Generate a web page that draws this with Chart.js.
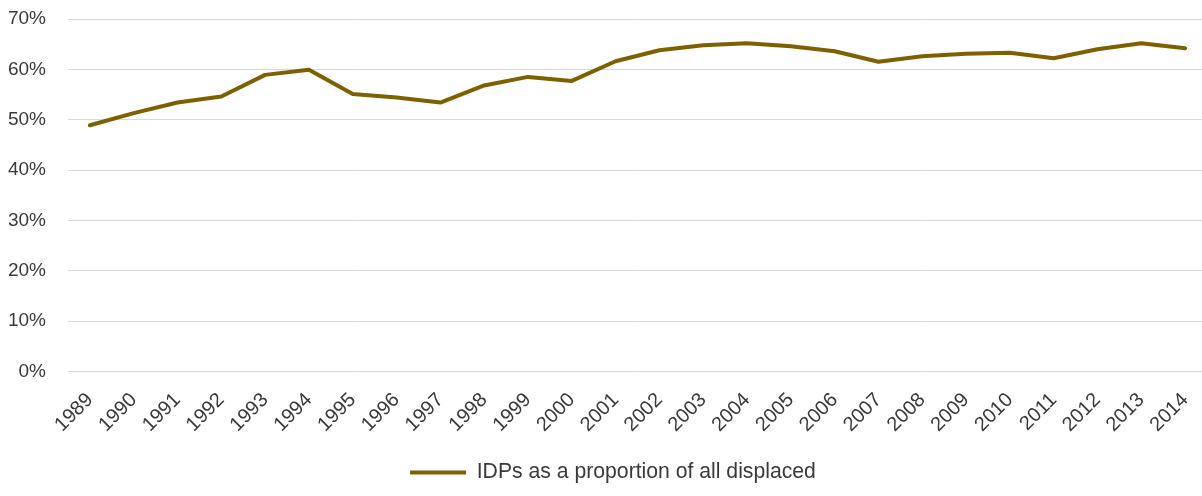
<!DOCTYPE html>
<html>
<head>
<meta charset="utf-8">
<script src="https://cdn.jsdelivr.net/npm/chart.js@4/dist/chart.umd.min.js"></script>
<style>
  html, body { margin: 0; padding: 0; background: #ffffff; overflow: hidden; }
  /* the plot runs slightly past the right edge of the window */
  #wrap { width: 1208px; height: 496px; position: relative; }
</style>
</head>
<body>
<div id="wrap"><canvas id="chart"></canvas></div>
<script>
// Years shown on the horizontal axis
const years = [
  '1989','1990','1991','1992','1993','1994','1995','1996','1997',
  '1998','1999','2000','2001','2002','2003','2004','2005','2006',
  '2007','2008','2009','2010','2011','2012','2013','2014'
];

// Internally displaced people as a share of all displaced people (%)
const idpShare = [
  48.9, 51.3, 53.4, 54.6, 58.9, 59.9, 55.1, 54.4, 53.4,
  56.8, 58.5, 57.7, 61.6, 63.8, 64.8, 65.2, 64.6, 63.6,
  61.5, 62.6, 63.1, 63.3, 62.2, 64.0, 65.2, 64.2
];

const seriesLabel = 'IDPs as a proportion of all displaced';

// Value axis range and step (%)
const yMin = 0;
const yMax = 70;
const yStep = 10;

const lineColor = '#7f6000';
const textColor = '#3a3a3a';
const fontFamily = '"Liberation Sans", Arial, sans-serif';

// Let the layout padding alone decide the plot edges
const noEdgePadding = (scale) => {
  scale.paddingLeft = 0;
  scale.paddingRight = 0;
  scale.paddingTop = 0;
  scale.paddingBottom = 0;
};

// Nudge the legend a little to the right of the canvas centre
const legendNudge = {
  id: 'legendNudge',
  afterLayout(chart) {
    const lg = chart.legend;
    if (lg) {
      lg.left += 6;
      lg.right += 6;
    }
  }
};

new Chart(document.getElementById('chart'), {
  type: 'line',
  data: {
    labels: years,
    datasets: [{
      label: seriesLabel,
      data: idpShare,
      borderColor: lineColor,
      backgroundColor: lineColor,
      borderWidth: 4,
      borderCapStyle: 'round',
      borderJoinStyle: 'round',
      pointRadius: 0,
      pointHoverRadius: 0,
      tension: 0,
      fill: false
    }]
  },
  plugins: [legendNudge],
  options: {
    responsive: true,
    maintainAspectRatio: false,
    animation: false,
    layout: { padding: { left: 7, right: 1, top: 19, bottom: 3 } },
    scales: {
      x: {
        offset: true,
        grid: { display: false, drawTicks: false },
        border: { display: false },
        afterFit: noEdgePadding,
        ticks: {
          color: textColor,
          font: { family: fontFamily, size: 20 },
          minRotation: 45,
          maxRotation: 45,
          autoSkip: false,
          padding: 17
        }
      },
      y: {
        min: yMin,
        max: yMax,
        grid: { color: '#d9d9d9', lineWidth: 1, drawTicks: false },
        border: { display: false },
        afterFit: (scale) => {
          noEdgePadding(scale);
          scale.width = 61;
        },
        ticks: {
          stepSize: yStep,
          color: textColor,
          font: { family: fontFamily, size: 19 },
          padding: 22,
          callback: (v) => v + '%'
        }
      }
    },
    plugins: {
      legend: {
        position: 'bottom',
        labels: {
          usePointStyle: true,
          pointStyle: 'line',
          pointStyleWidth: 56,
          color: textColor,
          font: { family: fontFamily, size: 21.2 },
          padding: 8
        }
      },
      tooltip: { enabled: false }
    }
  }
});
</script>
</body>
</html>
